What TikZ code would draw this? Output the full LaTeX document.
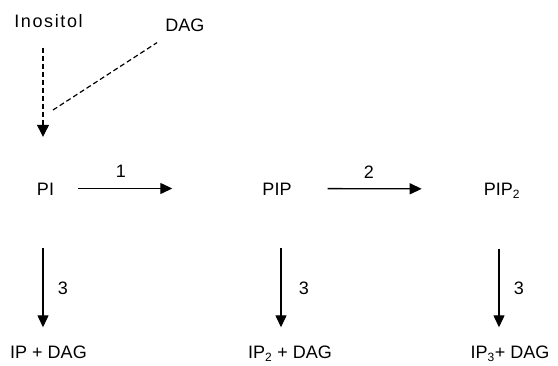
\documentclass[tikz,border=0pt]{standalone}
\usepackage{fontspec}
\setmainfont{Liberation Sans}
\usetikzlibrary{arrows.meta,calc}
\begin{document}
\begin{tikzpicture}[x=1pt,y=-1pt,
  lbl/.style={inner sep=0pt,text height=13pt,text depth=0pt,font=\fontsize{18}{20}\selectfont},
  num/.style={inner sep=0pt,font=\fontsize{18}{20}\selectfont},
  solidarrow/.style={line width=1.3pt,-{Triangle[length=12pt,width=11pt]}},
  dasharrow/.style={line width=1.2pt,dash pattern=on 5pt off 3pt,-{Triangle[length=12pt,width=12pt]}},
  dashline/.style={line width=1.2pt,dash pattern=on 5pt off 3pt}]
\useasboundingbox (0,0) rectangle (558,365);
\node[lbl] (ino) at (48.5,21) {\addfontfeature{LetterSpace=9}Inositol};
\node[lbl] (dag) at (185,24.5) {DAG};
\node[lbl] (pi) at (45.5,188.5) {PI};
\node[lbl] (pip) at (277,188.5) {PIP};
\node[lbl] (pip2) at (502,189) {PIP\textsubscript{\fontsize{12}{12}\selectfont 2}};
\node[lbl] (ip) at (48.5,352) {IP + DAG};
\node[lbl] (ip2) at (290,352) {IP\textsubscript{\fontsize{12}{12}\selectfont 2} + DAG};
\node[lbl] (ip3) at (510,352) {IP\textsubscript{\fontsize{12}{12}\selectfont 3}+ DAG};
\coordinate (j) at (53,110);
% dashed inputs
\draw[dasharrow,shorten <=20pt,shorten >=45pt] ([xshift=-2.5pt]pi.north |- ino.south) -- ([xshift=-2.5pt]pi.north);
\draw[dashline,shorten >=21pt] (j) -- (dag);
% horizontal arrows
\draw[solidarrow,shorten <=24pt,shorten >=90pt] (pi) -- (pip);
\node[num] (n1) at (121,171) {1};
\draw[solidarrow,shorten <=36pt,shorten >=62pt] (pip) -- (pip2);
\node[num] (n2) at (369,172) {2};
% vertical arrows
\draw[solidarrow,shorten <=53pt,shorten >=18pt] ([xshift=-2.5pt]pi.south) -- ([xshift=-2.5pt]pi.south |- ip.north);
\node[num] (n3a) at (63,288) {3};
\draw[solidarrow,shorten <=53pt,shorten >=18pt] ([xshift=4pt]pip.south) -- ([xshift=4pt]pip.south |- ip2.north);
\node[num] (n3b) at (304,288) {3};
\draw[solidarrow,shorten <=53pt,shorten >=18pt] ([xshift=-3pt]pip2.south) -- ([xshift=-3pt]pip2.south |- ip3.north);
\node[num] (n3c) at (519,288) {3};
\end{tikzpicture}
\end{document}
